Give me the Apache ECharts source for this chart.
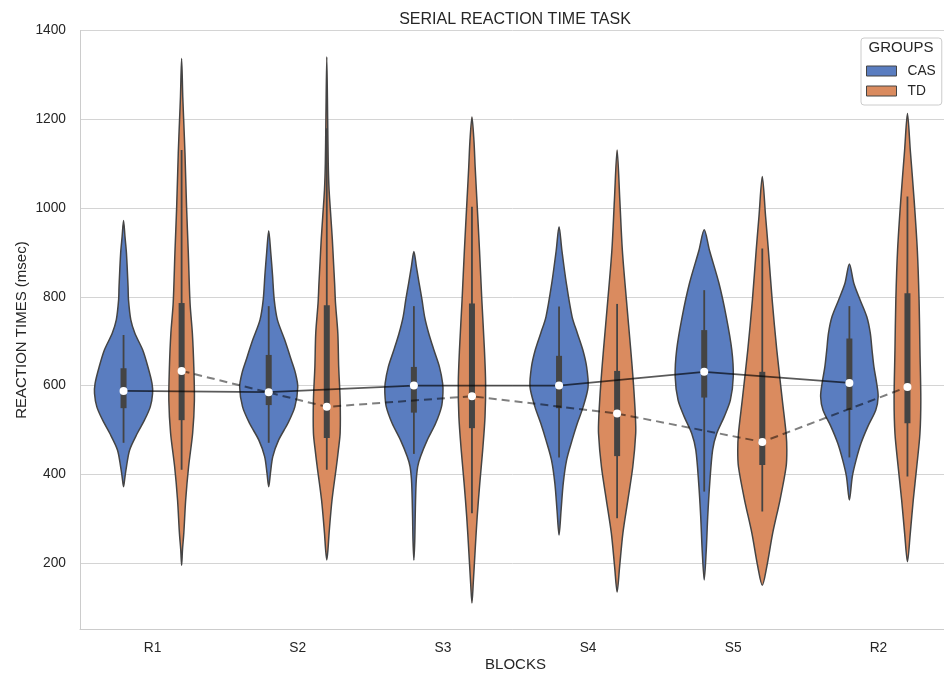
<!DOCTYPE html>
<html>
<head>
<meta charset="utf-8">
<title>Serial reaction time task</title>
<script src="https://cdn.jsdelivr.net/npm/echarts@6/dist/echarts.min.js"></script>
<style>
  html, body { margin: 0; padding: 0; background: #fff; }
  #chart { width: 944px; height: 675px; }
</style>
</head>
<body>
<div id="chart"></div>
<script>
  const blocks = ['R1', 'S2', 'S3', 'S4', 'S5', 'R2']
  const groups = ['CAS', 'TD']

  // medians (white dots), the lines join them
  const casMedian = [588, 585, 600, 600, 631, 606]
  const tdMedian = [633, 552, 576, 537, 473, 597]

  // inner boxes: quartiles and whisker ends
  const casQ1 = [549, 556, 539, 549, 573, 545]
  const casQ3 = [639, 669, 642, 667, 725, 706]
  const casLow = [471, 471, 446, 438, 361, 438]
  const casHigh = [714, 779, 779, 778, 815, 779]
  const tdQ1 = [522, 482, 504, 441, 421, 515]
  const tdQ3 = [786, 781, 785, 633, 631, 808]
  const tdLow = [410, 410, 312, 301, 316, 395]
  const tdHigh = [1131, 1180, 1003, 784, 909, 1026]

  // violin outlines: [reaction time, relative density], top to bottom
  const casR1 = [[972, 0], [935, 0.05], [898, 0.10], [823, 0.155], [793, 0.17], [748, 0.25], [718, 0.39], [680, 0.66], [642, 0.84], [605, 0.98], [582, 1.0], [552, 0.92], [522, 0.72], [493, 0.48], [455, 0.21], [417, 0.10], [395, 0.05], [372, 0]]
  const tdR1 = [[1337, 0], [1250, 0.04], [1200, 0.07], [1124, 0.115], [1003, 0.17], [900, 0.23], [786, 0.29], [718, 0.37], [642, 0.42], [567, 0.44], [493, 0.38], [417, 0.24], [342, 0.14], [268, 0.076], [230, 0.03], [195, 0]]
  const casS2 = [[949, 0], [900, 0.07], [850, 0.13], [793, 0.19], [748, 0.30], [703, 0.55], [657, 0.78], [628, 0.92], [597, 1.0], [552, 0.90], [515, 0.66], [477, 0.34], [440, 0.14], [403, 0.06], [372, 0]]
  const tdS2 = [[1341, 0], [1200, 0.03], [1100, 0.05], [1040, 0.08], [980, 0.14], [930, 0.19], [880, 0.23], [830, 0.27], [786, 0.30], [718, 0.38], [642, 0.41], [567, 0.46], [493, 0.46], [455, 0.40], [417, 0.33], [342, 0.18], [268, 0.08], [230, 0.04], [207, 0]]
  const casS3 = [[902, 0], [868, 0.086], [831, 0.18], [793, 0.28], [755, 0.37], [718, 0.51], [680, 0.69], [642, 0.88], [605, 0.99], [583, 1.0], [552, 0.95], [515, 0.75], [477, 0.46], [440, 0.23], [417, 0.13], [380, 0.076], [304, 0.045], [250, 0.03], [207, 0]]
  const tdS3 = [[1205, 0], [1150, 0.07], [1093, 0.11], [1018, 0.17], [905, 0.26], [793, 0.34], [680, 0.43], [606, 0.47], [530, 0.45], [455, 0.37], [380, 0.27], [304, 0.18], [229, 0.11], [155, 0.045], [110, 0]]
  const casS4 = [[958, 0], [905, 0.097], [831, 0.25], [755, 0.45], [718, 0.63], [680, 0.82], [642, 0.95], [597, 1.0], [552, 0.83], [515, 0.63], [477, 0.45], [432, 0.26], [380, 0.145], [319, 0.07], [263, 0]]
  const tdS4 = [[1131, 0], [1018, 0.093], [905, 0.18], [793, 0.32], [680, 0.47], [606, 0.56], [530, 0.63], [492, 0.64], [417, 0.54], [342, 0.37], [268, 0.20], [192, 0.086], [135, 0]]
  const casS5 = [[951, 0], [905, 0.18], [830, 0.51], [755, 0.76], [680, 0.95], [620, 1.0], [567, 0.90], [530, 0.69], [492, 0.43], [455, 0.29], [380, 0.19], [304, 0.12], [229, 0.07], [162, 0]]
  const tdS5 = [[1071, 0], [981, 0.114], [905, 0.21], [793, 0.34], [680, 0.50], [567, 0.69], [492, 0.82], [455, 0.845], [417, 0.82], [342, 0.61], [268, 0.36], [192, 0.155], [150, 0]]
  const casR2 = [[874, 0], [830, 0.155], [793, 0.37], [755, 0.60], [718, 0.72], [680, 0.78], [642, 0.845], [605, 0.94], [575, 0.99], [545, 0.91], [507, 0.63], [470, 0.40], [432, 0.23], [395, 0.10], [342, 0]]
  const tdR2 = [[1213, 0], [1131, 0.097], [1018, 0.23], [905, 0.34], [793, 0.40], [680, 0.43], [567, 0.46], [492, 0.43], [417, 0.32], [342, 0.20], [267, 0.097], [203, 0]]

  const casProfiles = [casR1, casS2, casS3, casS4, casS5, casR2]
  const tdProfiles = [tdR1, tdS2, tdS3, tdS4, tdS5, tdR2]

  const CAS_COLOR = '#5a7dc0'
  const TD_COLOR = '#da8b5f'
  const EDGE = '#444444'
  const TEXT = '#262626'
  const FONT = '"Liberation Sans", Arial, sans-serif'
  const DODGE = 0.2

  // draws one violin with its inner box for category i
  function violin (profiles, low, q1, q3, high, side, fill) {
    return function (params, api) {
      const i = api.value(0)
      const band = api.size([1, 0])[0]
      const cx = api.coord([i, 0])[0] + side * DODGE * band
      const half = DODGE * band
      const yOf = v => api.coord([i, v])[1]
      const prof = profiles[i]
      const right = prof.map(p => [cx + p[1] * half, yOf(p[0])])
      const left = prof.slice(1, -1).reverse().map(p => [cx - p[1] * half, yOf(p[0])])
      return {
        type: 'group',
        children: [{
          type: 'polygon',
          shape: { points: right.concat(left), smooth: 0.3 },
          style: { fill: fill, stroke: EDGE, lineWidth: 1.5 }
        }, {
          type: 'line',
          shape: { x1: cx, y1: yOf(high[i]), x2: cx, y2: yOf(low[i]) },
          style: { stroke: EDGE, lineWidth: 1.8 }
        }, {
          type: 'rect',
          shape: { x: cx - 3, y: yOf(q3[i]), width: 6, height: yOf(q1[i]) - yOf(q3[i]) },
          style: { fill: EDGE }
        }]
      }
    }
  }

  const chart = echarts.init(document.getElementById('chart'), null, { renderer: 'canvas' })
  chart.setOption({
    animation: false,
    backgroundColor: '#ffffff',
    textStyle: { fontFamily: FONT },
    title: {
      text: 'SERIAL REACTION TIME TASK',
      left: 510,
      top: 7,
      textAlign: 'center',
      textStyle: { fontSize: 16, fontWeight: 'normal', color: TEXT, fontFamily: FONT }
    },
    grid: { left: 80, right: -7, top: 30.6, bottom: 45.4, containLabel: false, outerBoundsMode: 'none' },
    legend: {
      data: groups,
      orient: 'vertical',
      left: 861,
      top: 38,
      padding: [26, 6, 7, 5],
      itemGap: 6,
      itemWidth: 30,
      itemHeight: 10,
      icon: 'rect',
      selectedMode: false,
      backgroundColor: 'rgba(255,255,255,0.8)',
      borderColor: '#cccccc',
      borderWidth: 1,
      borderRadius: 3,
      itemStyle: { borderColor: EDGE, borderWidth: 1 },
      textStyle: { fontSize: 13.75, color: TEXT, fontFamily: FONT, padding: [0, 0, 0, 6] }
    },
    graphic: [{
      type: 'text',
      x: 901,
      y: 48,
      z: 100,
      style: { text: 'GROUPS', fontSize: 15, fontFamily: FONT, fill: TEXT, textAlign: 'center', textVerticalAlign: 'middle' }
    }],
    xAxis: [{
      type: 'category',
      data: blocks,
      name: 'BLOCKS',
      nameLocation: 'middle',
      nameGap: 28,
      nameMoveOverlap: false,
      nameTextStyle: { fontSize: 15, color: TEXT },
      axisLine: { onZero: false, lineStyle: { color: '#cccccc', width: 1 } },
      axisTick: { show: false },
      axisLabel: { fontSize: 13.75, color: TEXT, margin: 12 },
      splitLine: { show: false }
    }, {
      type: 'value',
      min: -0.5,
      max: 5.5,
      show: false
    }],
    yAxis: {
      type: 'value',
      min: 50,
      max: 1400,
      splitNumber: 6,
      name: 'REACTION TIMES (msec)',
      nameLocation: 'middle',
      nameGap: 51,
      nameMoveOverlap: false,
      nameTextStyle: { fontSize: 15, color: TEXT },
      axisLine: { show: true, onZero: false, lineStyle: { color: '#cccccc', width: 1 } },
      axisTick: { show: false },
      axisLabel: { fontSize: 13.75, color: TEXT, margin: 14, showMinLabel: false, formatter: v => String(v) },
      splitLine: { lineStyle: { color: '#d4d4d4', width: 1 } }
    },
    series: [{
      name: 'CAS',
      type: 'custom',
      itemStyle: { color: CAS_COLOR },
      renderItem: violin(casProfiles, casLow, casQ1, casQ3, casHigh, -1, CAS_COLOR),
      encode: { x: 0, y: 1 },
      data: blocks.map((b, i) => [i, casMedian[i]]),
      z: 2
    }, {
      name: 'TD',
      type: 'custom',
      itemStyle: { color: TD_COLOR },
      renderItem: violin(tdProfiles, tdLow, tdQ1, tdQ3, tdHigh, 1, TD_COLOR),
      encode: { x: 0, y: 1 },
      data: blocks.map((b, i) => [i, tdMedian[i]]),
      z: 2
    }, {
      name: 'CAS median',
      type: 'line',
      xAxisIndex: 1,
      data: casMedian.map((m, i) => [i - DODGE, m]),
      symbol: 'none',
      lineStyle: { color: 'rgba(0,0,0,0.65)', width: 1.8 },
      z: 3
    }, {
      name: 'TD median',
      type: 'line',
      xAxisIndex: 1,
      data: tdMedian.map((m, i) => [i + DODGE, m]),
      symbol: 'none',
      lineStyle: { color: 'rgba(0,0,0,0.5)', width: 2, type: [8, 5] },
      z: 3
    }, {
      name: 'medians',
      type: 'scatter',
      xAxisIndex: 1,
      data: casMedian.map((m, i) => [i - DODGE, m]).concat(tdMedian.map((m, i) => [i + DODGE, m])),
      symbol: 'circle',
      symbolSize: 8,
      itemStyle: { color: '#ffffff', opacity: 1 },
      z: 4
    }]
  })
</script>
</body>
</html>
